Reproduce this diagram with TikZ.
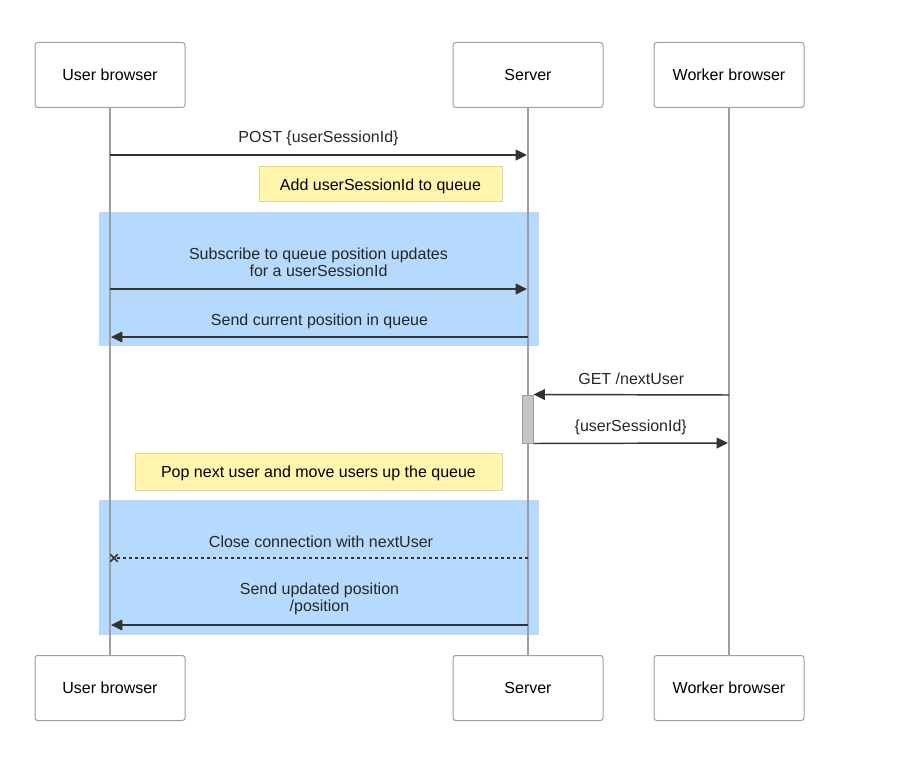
\documentclass[tikz,border=0pt]{standalone}
\usepackage{fontspec}
\setmainfont{Liberation Sans}
\usetikzlibrary{arrows.meta,shapes.misc}
\definecolor{actline}{HTML}{9E9E9E}
\definecolor{notefill}{HTML}{FFF5AD}
\definecolor{noteline}{HTML}{E3D98C}
\definecolor{blockfill}{HTML}{B5DAFE}
\definecolor{msgline}{HTML}{333333}
\definecolor{actfill}{HTML}{C6C6C6}

\begin{document}
\begin{tikzpicture}[x=0.75pt,y=-0.75pt,
	actor/.style={draw=actline, fill=white, rounded corners=2pt, minimum width=112.5pt, minimum height=48.75pt, line width=0.75pt, font=\fontsize{12}{13}\selectfont},
	life/.style={draw=actline, line width=0.9pt},
	msg/.style={draw=msgline, line width=1.1pt, -{Triangle[length=8.5pt,width=8pt]}},
	lbl/.style={inner sep=0pt, align=center, text=black!85, font=\fontsize{12}{12.75}\selectfont},
	note/.style={draw=noteline, fill=notefill, line width=0.75pt, inner sep=0pt, text height=9.3pt, text depth=0pt, font=\fontsize{12}{13}\selectfont}]
		\useasboundingbox (0,0) rectangle (917,777);

		% highlighted blocks
		\fill[blockfill] (99,212) rectangle (539,346);
		\fill[blockfill] (99,500) rectangle (539,635);

		% actors
		\node (ub) [actor] at (110,75) {User browser};
		\node (srv) [actor] at (528,75) {Server};
		\node (wb) [actor] at (729,75) {Worker browser};
		\node (ubB) [actor] at (110,688) {User browser};
		\node (srvB) [actor] at (528,688) {Server};
		\node (wbB) [actor] at (729,688) {Worker browser};

		\draw[life] (ub.south) -- (ubB.north);
		\draw[life] (srv.south) -- (srvB.north);
		\draw[life] (wb.south) -- (wbB.north);

		% POST
		\draw[msg] (ub.south |- 0,155) -- ([xshift=-0.75pt]srv.south |- 0,155) node[lbl, midway, yshift=12.75pt] {POST \{userSessionId\}};
		\node (addq) [note, minimum width=182.25pt, minimum height=26.25pt] at (380.5,184.5) {Add userSessionId to queue};

		% subscribe block
		\draw[msg] (ub.south |- 0,289) -- ([xshift=-0.75pt]srv.south |- 0,289) node[lbl, midway, yshift=19.9pt] {Subscribe to queue position updates\\for a userSessionId};
		\draw[msg] (srv.south |- 0,337) -- ([xshift=0.75pt]ub.south |- 0,337) node[lbl, midway, yshift=12pt] {Send current position in queue};

		% worker
		\node (act) [draw=actline, fill=actfill, line width=0.75pt, minimum width=8.25pt, minimum height=36pt, inner sep=0pt] at (527.5,419) {};
		\draw[msg] (wb.south |- 0,395) -- (act.north east) node[lbl, midway, yshift=12pt] {GET /nextUser};
		\draw[msg] (act.south east) -- ([xshift=-0.75pt]wb.south |- 0,443) node[lbl, midway, yshift=12pt] {\{userSessionId\}};

		\node (pop) [note, minimum width=275.25pt, minimum height=27.75pt] at (318.5,471.5) {Pop next user and move users up the queue};

		% close block
		\coordinate (xend) at ([xshift=3pt]ub.south |- 0,558);
		\draw[draw=msgline, line width=1.1pt, dash pattern=on 2.25pt off 2.25pt] (srv.south |- 0,558) -- (xend) node[lbl, midway, yshift=12pt] {Close connection with nextUser};
		\node[cross out, draw=msgline, line width=1.1pt, minimum size=4.5pt, inner sep=0pt] at (xend) {};
		\draw[msg] (srv.south |- 0,625) -- ([xshift=0.75pt]ub.south |- 0,625) node[lbl, midway, yshift=19.9pt] {Send updated position\\/position};

	\end{tikzpicture}
\end{document}
